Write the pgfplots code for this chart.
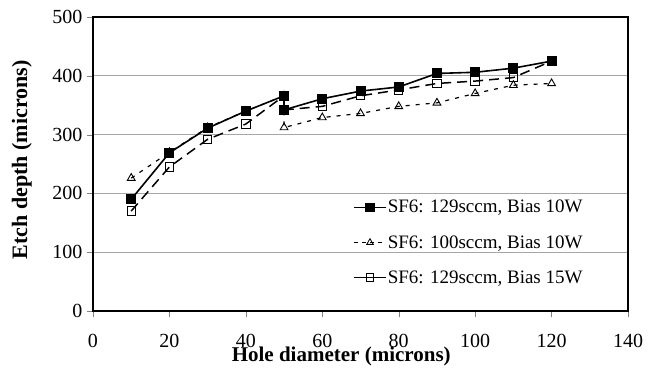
\documentclass[border=0pt]{standalone}
\usepackage{fontspec}
\setmainfont{Liberation Serif}
\usepackage{pgfplots}
\pgfplotsset{compat=1.18}
\begin{document}
\begin{tikzpicture}
\path[use as bounding box] (-93bp,-59bp) rectangle (564bp,311bp);
\begin{axis}[
  scale only axis,
  width=535bp, height=294bp,
  xmin=0, xmax=140, ymin=0, ymax=500,
  xtick={0,20,...,140}, ytick={0,100,...,500},
  tick align=outside,
  major tick length=6bp,
  xtick pos=bottom, ytick pos=left,
  ymajorgrids,
  major grid style={gray!70, line width=0.8bp},
  axis line style={line width=1.8bp},
  /pgf/number format/assume math mode=true,
  ticklabel style={font=\fontsize{20bp}{22bp}\selectfont},
  yticklabel style={xshift=-1bp},
  xticklabel style={anchor=base, yshift=-30bp},
  xlabel={Hole diameter (microns)},
  ylabel={Etch depth (microns)},
  xlabel style={font=\fontsize{21bp}{23bp}\selectfont\bfseries, at={(axis description cs:0.464,-0.155)},anchor=center},
  ylabel style={font=\fontsize{22bp}{24bp}\selectfont\bfseries, at={(axis description cs:-0.133,0.514)},anchor=center},
  legend style={draw=none, fill=none, at={(rel axis cs:0.486,0.384)}, anchor=north west,
    font=\fontsize{19bp}{21bp}\selectfont, row sep=17bp, inner sep=0pt,
    nodes={inner xsep=1bp}},
  legend cell align=left,
  legend image code/.code={\draw[mark repeat=2,mark phase=2,#1] plot coordinates {(0bp,0bp) (16bp,0bp) (32bp,0bp)};},
  clip=false,
]
\addplot[black, line width=1.6bp, mark=square*, mark size=4.2bp, mark options={solid}, forget plot]
  coordinates {(10,190)(20,269)(30,311)(40,340)(50,366)(50,342)(60,361)(70,374)(80,381)(90,404)(100,406)(110,413)(120,425)};
\addplot[black, line width=1.2bp, dash pattern=on 4bp off 6bp, mark=triangle, mark size=4.5bp, mark options={solid, fill=white, line width=0.9bp}, forget plot]
  coordinates {(10,226)(20,270)(30,312)(40,340)(50,366)(50,312)(60,329)(70,336)(80,348)(90,354)(100,370)(110,384)(120,387)};
\addplot[black, line width=1.5bp, dash pattern=on 10bp off 6bp, mark=square, mark size=4.2bp, mark options={solid, fill=white, line width=1bp}, forget plot]
  coordinates {(10,170)(20,245)(30,292)(40,318)(50,366)(50,342)(60,348)(70,366)(80,376)(90,387)(100,391)(110,397)(120,425)};
\addlegendimage{black, line width=1.6bp, mark=square*, mark size=3.8bp, mark options={solid}}
\addlegendentry{SF6: 129sccm, Bias 10W}
\addlegendimage{black, line width=1.2bp, dash pattern=on 4bp off 4bp, mark=triangle, mark size=3.8bp, mark options={solid, fill=white, line width=0.8bp}}
\addlegendentry{SF6: 100sccm, Bias 10W}
\addlegendimage{black, line width=1bp, mark=square, mark size=3.8bp, mark options={solid, fill=white, line width=0.9bp}}
\addlegendentry{SF6: 129sccm, Bias 15W}
\end{axis}
\end{tikzpicture}
\end{document}
